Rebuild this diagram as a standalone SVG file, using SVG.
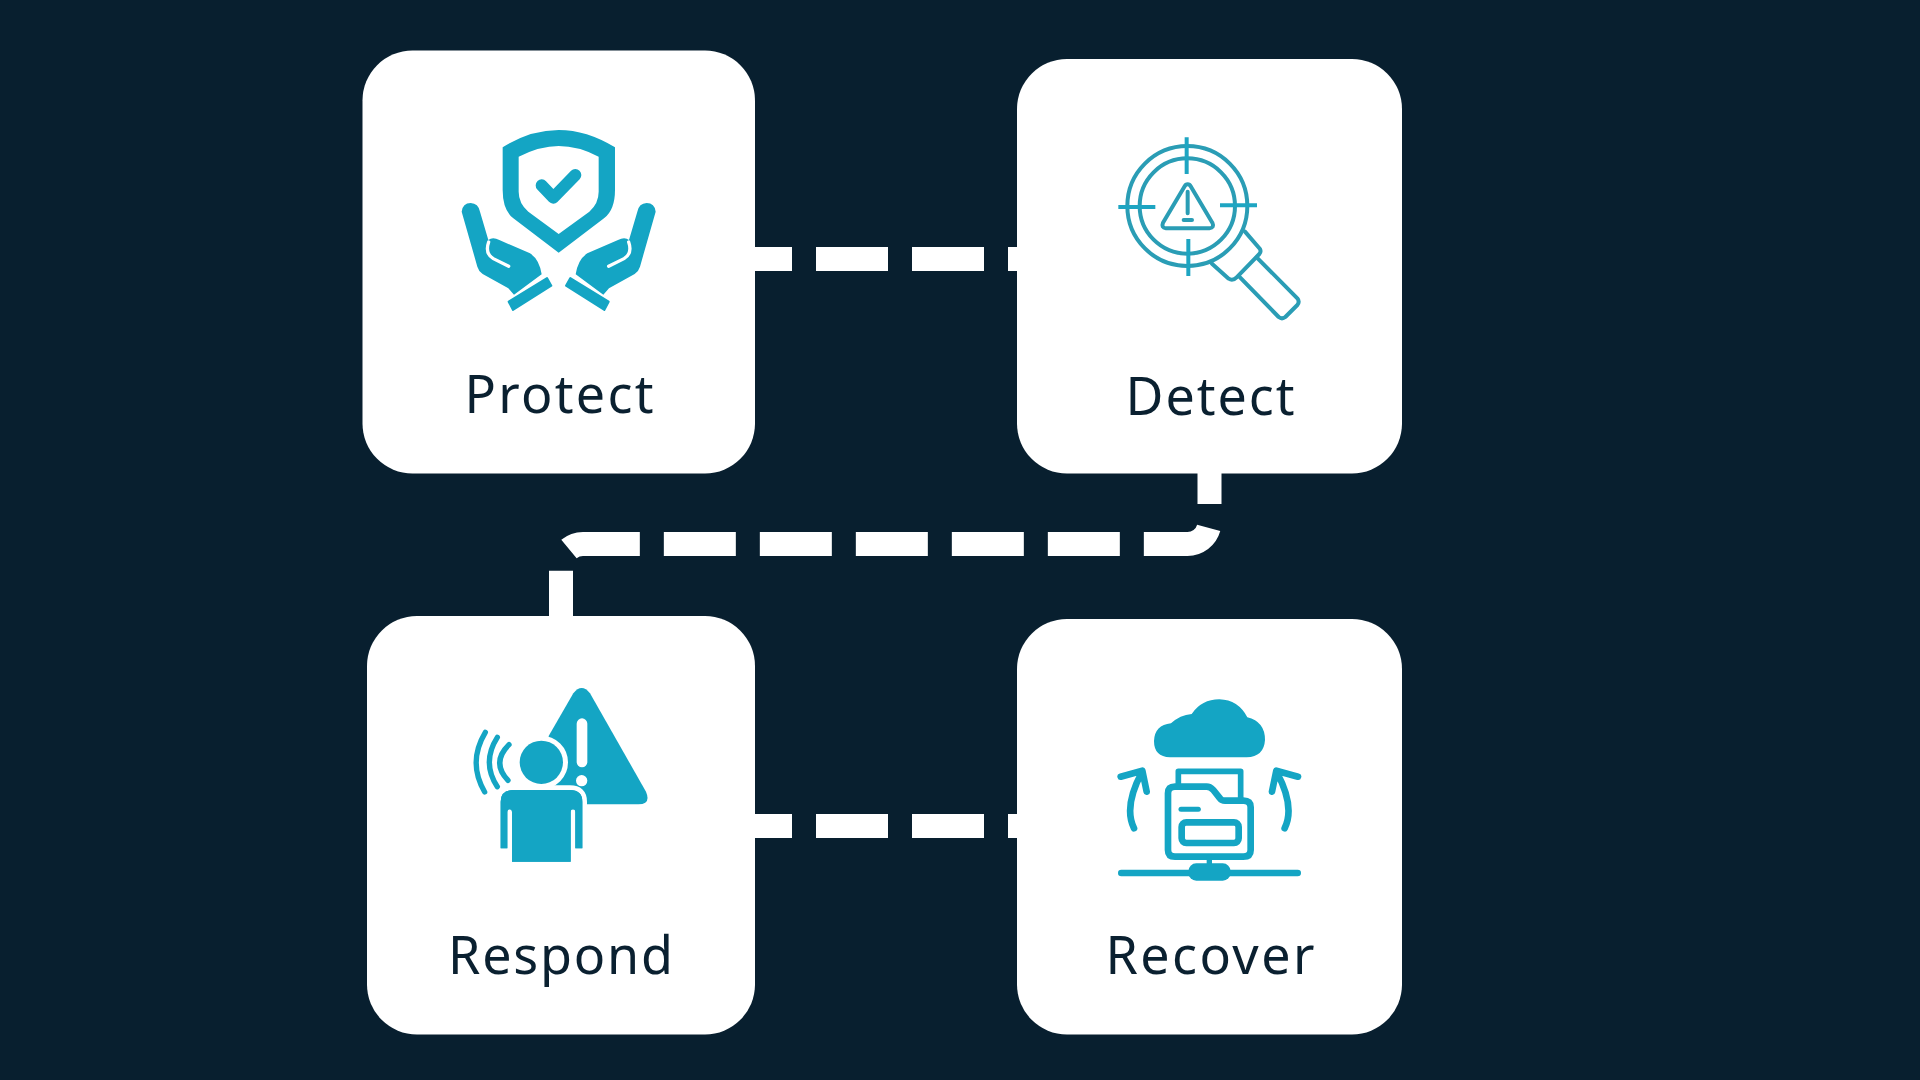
<svg xmlns="http://www.w3.org/2000/svg" width="1920" height="1080" viewBox="0 0 1920 1080">
<defs>
<style>
.card{fill:#fff}
.lbl{font-family:"Noto Sans","Open Sans",sans-serif;font-size:52px;fill:#0a2030;text-anchor:middle}
.f{fill:#14a5c4}
.w{fill:#fff}
.s{fill:none;stroke:#14a5c4;stroke-linecap:round;stroke-linejoin:round}
.d{fill:none;stroke:#2a9db5;stroke-width:12;stroke-linecap:round;stroke-linejoin:round}
.c{fill:none;stroke:#fff;stroke-width:24;stroke-dasharray:72 24}
</style>
<g id="hand">
<path class="f" d="M305 515Q308 489 332 489Q355 490 360 515L385 600Q398 590 418 600L510 640Q538 658 545 703L462 764L445 745L368 702Q356 694 352 680Z"/>
<path d="M386 606Q374 640 400 656L446 679" fill="none" stroke="#fff" stroke-width="10" stroke-linecap="round"/>
<path class="f" stroke="#14a5c4" stroke-width="6" stroke-linejoin="round" d="M446 785L561 714L574 737L459 810Z"/>
</g>
</defs>
<rect width="1920" height="1080" fill="#081f2f"/>
<g id="connectors">
<path class="c" stroke-dashoffset="35" d="M755 259H1017"/>
<path class="c" stroke-dashoffset="41" d="M1209.500 473V522A22 22 0 0 1 1187.500 544H583A22 22 0 0 0 561 566V616"/>
<path class="c" stroke-dashoffset="35" d="M755 826H1017"/>
</g>
<g id="protect">
<rect class="card" x="362.500" y="50.500" width="392.500" height="423" rx="50"/>
<g transform="translate(360 40) scale(.33333)">
<path class="f" fill-rule="evenodd" d="M428 322Q510 270 596 270Q680 270 765 322V450Q765 510 732 535L596 638L460 535Q428 510 428 450ZM476 350V455Q476 490 505 515L596 582L688 515Q716 490 716 455V350Q655 318 596 318Q540 318 476 350Z"/>
<path class="s" stroke-width="36" d="M545 436L580 473L646 405"/>
<use href="#hand"/>
<use href="#hand" transform="translate(1192 0) scale(-1 1)"/>
</g>
<text class="lbl" x="559" y="412.500" textLength="189">Protect</text>
</g>
<g id="detect">
<rect class="card" x="1017" y="59" width="385" height="414.500" rx="50"/>
<g transform="translate(1010 50) scale(.33333)">
<circle class="d" cx="532" cy="468" r="180"/>
<circle class="d" cx="532" cy="468" r="143"/>
<path class="d" style="stroke:#1ea5c2;stroke-linecap:butt" d="M530 262V372M535 567V678M325 471H436M630 466H741"/>
<path class="d" d="M533 403Q527 403 524 409L459 518Q453 533 468 535H598Q614 533 607 518L542 409Q539 403 533 403Z"/>
<path class="d" d="M533 425V490M521 510H546"/>
<path class="d" d="M705 545L750 597Q754 606 748 612L680 682Q668 694 656 686L606 641"/>
<path class="d" d="M740 622L862 745Q870 755 862 765L826 801Q816 809 806 801L690 682"/>
</g>
<text class="lbl" x="1210" y="415" textLength="169">Detect</text>
</g>
<g id="respond">
<rect class="card" x="367" y="616" width="388" height="418.500" rx="50"/>
<g transform="translate(360 610) scale(.33333)">
<path class="f" d="M640 250Q665 218 690 250L858 545Q874 583 835 583H600L560 450L566 378Z"/>
<rect class="w" x="650" y="325" width="32" height="147" rx="16"/>
<circle class="w" cx="665" cy="512" r="17"/>
<circle class="f" cx="544" cy="457" r="65" stroke="#fff" stroke-width="30" paint-order="stroke"/>
<path class="f" stroke="#fff" stroke-width="28" paint-order="stroke" d="M422 715V575Q422 540 460 540H630Q667 540 667 575V715H646V605Q646 598 639 598Q632 598 632 605V755H456V605Q456 598 449 598Q442 598 442 605V715Z"/>
<path class="f" d="M422 715V575Q422 540 460 540H630Q667 540 667 575V715H646V605Q646 598 639 598Q632 598 632 605V755H456V605Q456 598 449 598Q442 598 442 605V715Z"/>
<path class="s" stroke-width="16" d="M447 404Q393 457 444 511M412 382Q364 457 412 530M376 367Q322 457 374 546"/>
</g>
<text class="lbl" x="560.500" y="974" textLength="225">Respond</text>
</g>
<g id="recover">
<rect class="card" x="1017" y="619" width="385" height="415.500" rx="50"/>
<g transform="translate(1010 610) scale(.33333)">
<path class="f" d="M480 442Q432 440 432 393Q434 345 483 340Q510 315 545 312Q575 268 628 268Q685 270 712 322Q765 335 765 390Q762 440 710 442Z"/>
<path class="s" stroke-width="20" d="M372 655Q340 590 396 486M332 500L397 482L410 545M824 655Q856 590 800 486M864 500L799 482L786 545"/>
<path class="s" stroke-width="17" stroke-linecap="butt" d="M505 525V484H692V565"/>
<path class="s" stroke-width="20" d="M474 550Q474 530 495 530H590Q600 530 610 540L630 565Q635 572 645 572H700Q722 572 722 592V720Q722 740 700 740H495Q474 740 474 720Z"/>
<path class="s" stroke-width="15" d="M513 598H565"/>
<rect class="s" stroke-width="20" x="515" y="637" width="171" height="62" rx="14"/>
<path class="s" stroke-width="16" d="M598 740V775"/>
<path class="s" stroke-width="20" d="M334 789H863"/>
<rect class="f" x="535" y="760" width="127" height="52" rx="24"/>
</g>
<text class="lbl" x="1210" y="974" textLength="209">Recover</text>
</g>
</svg>
